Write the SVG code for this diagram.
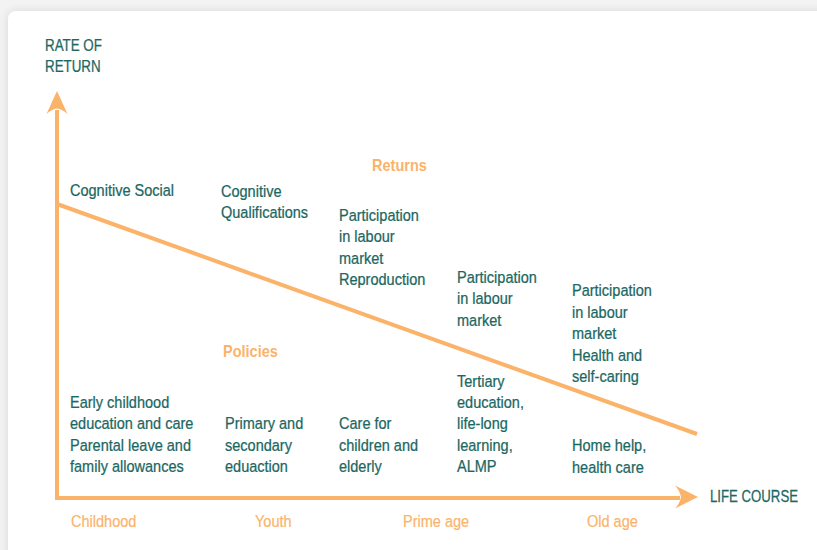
<svg xmlns="http://www.w3.org/2000/svg" width="817" height="550" viewBox="0 0 817 550">
  <defs>
    <filter id="cardShadow" x="-5%" y="-5%" width="110%" height="110%">
      <feDropShadow dx="0" dy="0" stdDeviation="4" flood-color="#000" flood-opacity="0.12"/>
    </filter>
    <style>
      .lbl { font-family: "Liberation Sans", Arial, sans-serif; font-size: 16.5px; fill: #1b6762; stroke: #1b6762; stroke-width: 0.25px; }
      .head { font-family: "Liberation Sans", Arial, sans-serif; font-size: 16.5px; font-weight: bold; fill: #fbb36a; }
      .stage { font-family: "Liberation Sans", Arial, sans-serif; font-size: 16.5px; fill: #fbb36a; stroke: #fbb36a; stroke-width: 0.2px; }
      .axis { stroke: #fbb36a; stroke-width: 4; fill: none; }
      .head-arrow { fill: #fbb36a; }
    </style>
  </defs>

  <!-- page background and card -->
  <rect x="0" y="0" width="817" height="550" fill="#f3f3f3"/>
  <rect x="8" y="11" width="830" height="560" rx="8" fill="#ffffff" filter="url(#cardShadow)"/>

  <!-- axes, trend line and arrowheads -->
  <g id="connectors">
    <polyline class="axis" points="57,110 57,498 680,498"/>
    <line class="axis" x1="57" y1="204" x2="697" y2="434"/>
    <path class="head-arrow" d="M57,91 L67.5,114 Q62,109 57,108.5 Q52,109 46.5,114 Z"/>
    <path class="head-arrow" d="M698,497 L675,508.5 Q680,503 681,497 Q680,491 675,485.5 Z"/>
  </g>

  <!-- axis titles -->
  <g id="y-axis-title" transform="translate(45,0) scale(0.81,1)">
    <text class="lbl"><tspan x="0" y="51">RATE OF</tspan><tspan x="0" y="72">RETURN</tspan></text>
  </g>
  <g id="x-axis-title" transform="translate(710,0) scale(0.80,1)">
    <text class="lbl" x="0" y="502">LIFE COURSE</text>
  </g>

  <!-- section headings -->
  <g id="returns-heading" transform="translate(372,0) scale(0.88,1)">
    <text class="head" x="0" y="171">Returns</text>
  </g>
  <g id="policies-heading" transform="translate(223,0) scale(0.88,1)">
    <text class="head" x="0" y="357">Policies</text>
  </g>

  <!-- returns by life stage -->
  <g id="returns-childhood" transform="translate(70,0) scale(0.88,1)">
    <text class="lbl" x="0" y="196">Cognitive Social</text>
  </g>
  <g id="returns-youth" transform="translate(221,0) scale(0.88,1)">
    <text class="lbl"><tspan x="0" y="197">Cognitive</tspan><tspan x="0" y="218">Qualifications</tspan></text>
  </g>
  <g id="returns-prime-early" transform="translate(339,0) scale(0.88,1)">
    <text class="lbl"><tspan x="0" y="221">Participation</tspan><tspan x="0" y="242">in labour</tspan><tspan x="0" y="264">market</tspan><tspan x="0" y="285">Reproduction</tspan></text>
  </g>
  <g id="returns-prime-late" transform="translate(457,0) scale(0.88,1)">
    <text class="lbl"><tspan x="0" y="283">Participation</tspan><tspan x="0" y="304">in labour</tspan><tspan x="0" y="326">market</tspan></text>
  </g>
  <g id="returns-old-age" transform="translate(572,0) scale(0.88,1)">
    <text class="lbl"><tspan x="0" y="296">Participation</tspan><tspan x="0" y="318">in labour</tspan><tspan x="0" y="339">market</tspan><tspan x="0" y="361">Health and</tspan><tspan x="0" y="382">self-caring</tspan></text>
  </g>

  <!-- policies by life stage -->
  <g id="policies-childhood" transform="translate(70,0) scale(0.88,1)">
    <text class="lbl"><tspan x="0" y="408">Early childhood</tspan><tspan x="0" y="429">education and care</tspan><tspan x="0" y="451">Parental leave and</tspan><tspan x="0" y="472">family allowances</tspan></text>
  </g>
  <g id="policies-youth" transform="translate(225,0) scale(0.88,1)">
    <text class="lbl"><tspan x="0" y="429">Primary and</tspan><tspan x="0" y="451">secondary</tspan><tspan x="0" y="472">eduaction</tspan></text>
  </g>
  <g id="policies-prime-early" transform="translate(339,0) scale(0.88,1)">
    <text class="lbl"><tspan x="0" y="429">Care for</tspan><tspan x="0" y="451">children and</tspan><tspan x="0" y="472">elderly</tspan></text>
  </g>
  <g id="policies-prime-late" transform="translate(457,0) scale(0.88,1)">
    <text class="lbl"><tspan x="0" y="387">Tertiary</tspan><tspan x="0" y="408">education,</tspan><tspan x="0" y="429">life-long</tspan><tspan x="0" y="451">learning,</tspan><tspan x="0" y="472">ALMP</tspan></text>
  </g>
  <g id="policies-old-age" transform="translate(572,0) scale(0.88,1)">
    <text class="lbl"><tspan x="0" y="451">Home help,</tspan><tspan x="0" y="473">health care</tspan></text>
  </g>

  <!-- life stages along the x axis -->
  <g id="stage-childhood" transform="translate(71,0) scale(0.88,1)">
    <text class="stage" x="0" y="527">Childhood</text>
  </g>
  <g id="stage-youth" transform="translate(255,0) scale(0.88,1)">
    <text class="stage" x="0" y="527">Youth</text>
  </g>
  <g id="stage-prime-age" transform="translate(403,0) scale(0.88,1)">
    <text class="stage" x="0" y="527">Prime age</text>
  </g>
  <g id="stage-old-age" transform="translate(587,0) scale(0.88,1)">
    <text class="stage" x="0" y="527">Old age</text>
  </g>
</svg>
